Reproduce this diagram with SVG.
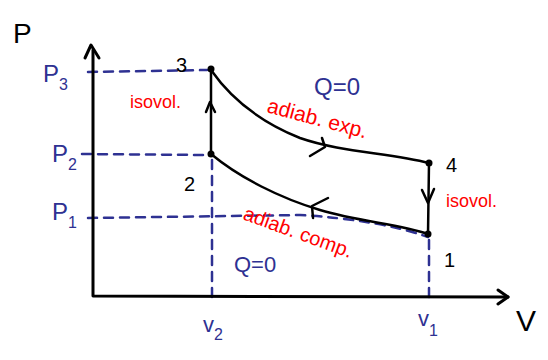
<svg xmlns="http://www.w3.org/2000/svg" width="548" height="360" viewBox="0 0 548 360">
<style>
.ax{fill:none;stroke:#000;stroke-width:3;stroke-linecap:round;stroke-linejoin:round}
.cv{fill:none;stroke:#000;stroke-width:2.5;stroke-linecap:round;stroke-linejoin:round}
.ds{fill:none;stroke:#2e3192;stroke-width:2.5;stroke-dasharray:9 7;stroke-linecap:round}
.bl{font-family:"Liberation Sans",Arial,sans-serif;fill:#2e3192}
.rd{font-family:"Liberation Sans",Arial,sans-serif;fill:#ff0000}
.bk{font-family:"Liberation Sans",Arial,sans-serif;fill:#000}
</style>
<rect width="548" height="360" fill="#fff"/>
<g id="guides">
<path class="ds" d="M88 72 L207 70"/>
<path class="ds" d="M82 154 L208 155"/>
<path class="ds" d="M88 218 L300 215 Q380 220 428 237"/>
<path class="ds" d="M212 160 L212 300"/>
<path class="ds" d="M429 240 L429 300"/>
</g>
<g id="axes">
<path class="ax" d="M93 50 L93 296 L508 297"/>
<path class="ax" d="M85 58 L91 45 L99 58"/>
<path class="ax" d="M498 290 L508 297 L498 304"/>
</g>
<g id="connectors">
<path class="cv" d="M211 70 L211 154"/>
<path class="cv" d="M206 112 L210 102 L215 112"/>
<path class="cv" d="M211 70 C232 100 260 122 300 138 C340 152 390 153 429 163"/>
<path class="cv" d="M310 156 L325 147 L322 138"/>
<path class="cv" d="M429 163 L428 234"/>
<path class="cv" d="M422 190 L428 203 L434 189"/>
<path class="cv" d="M211 154 C240 178 280 198 320 210 C360 222 400 224 428 234"/>
<path class="cv" d="M328 198 L312 206 L313 218"/>
</g>
<g id="n3"><circle cx="211" cy="69" r="3.5"/><text class="bk" x="176" y="72" font-size="20">3</text></g>
<g id="n2"><circle cx="211" cy="154" r="3.5"/><text class="bk" x="184" y="191" font-size="20">2</text></g>
<g id="n4"><circle cx="429" cy="163" r="3.5"/><text class="bk" x="446" y="172" font-size="20">4</text></g>
<g id="n1"><circle cx="428" cy="234" r="3.5"/><text class="bk" x="444" y="267" font-size="20">1</text></g>
<g id="labels">
<text class="bk" x="13" y="43" font-size="28">P</text>
<text class="bl" x="43" y="82" font-size="24">P<tspan font-size="16" dy="8">3</tspan></text>
<text class="bl" x="52" y="162" font-size="24">P<tspan font-size="16" dy="8">2</tspan></text>
<text class="bl" x="52" y="220" font-size="24">P<tspan font-size="16" dy="8">1</tspan></text>
<text class="bl" x="203" y="332" font-size="22">v<tspan font-size="16" dy="8">2</tspan></text>
<text class="bl" x="418" y="326" font-size="22">v<tspan font-size="16" dy="10">1</tspan></text>
<text class="bk" x="516" y="331" font-size="30">V</text>
<text class="rd" x="130" y="108" font-size="18">isovol.</text>
<text class="rd" x="446" y="207" font-size="18">isovol.</text>
<text class="rd" x="266" y="112" font-size="21" transform="rotate(15 266 112)">adiab. exp.</text>
<text class="rd" x="242" y="219" font-size="20" transform="rotate(20 242 219)">adiab. comp.</text>
<text class="bl" x="314" y="95" font-size="24">Q=0</text>
<text class="bl" x="234" y="272" font-size="22">Q=0</text>
</g>
</svg>
